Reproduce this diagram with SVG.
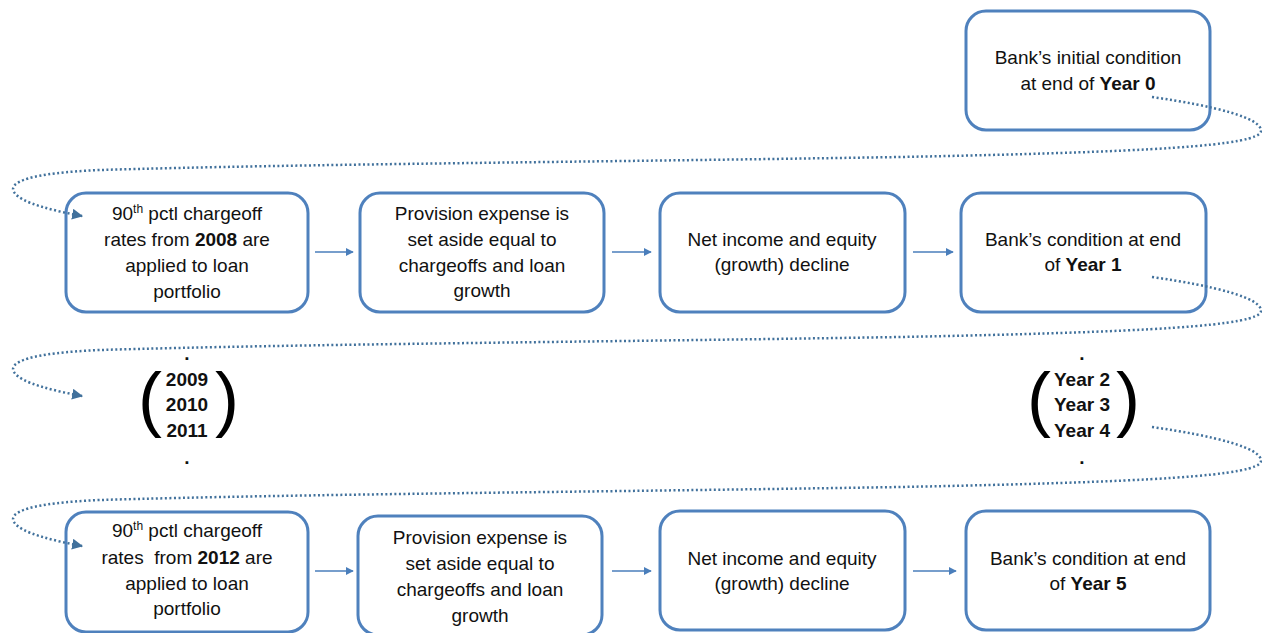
<svg xmlns="http://www.w3.org/2000/svg" width="1262" height="633" viewBox="0 0 1262 633">
<style>
.box{fill:#fff;stroke:#4f81bd;stroke-width:3}
.t{font-family:"Liberation Sans",Arial,sans-serif;font-size:19px;fill:#111;text-anchor:middle}
.b{font-weight:bold}
.sup{font-size:12px}
.par{font-family:"Liberation Sans",Arial,sans-serif;font-size:72px;fill:#000;text-anchor:middle}
.dot{fill:none;stroke:#41719c;stroke-width:2.5;stroke-dasharray:2 2.5}
.arr{fill:none;stroke:#4a7ebb;stroke-width:1.5}
</style>
<defs>
<marker id="ah" viewBox="0 0 10 10" refX="9" refY="5" markerWidth="8" markerHeight="8" orient="auto" markerUnits="userSpaceOnUse">
<path d="M0,0 L10,5 L0,10 z" fill="#4a7ebb"/>
</marker>
<marker id="dh" viewBox="0 0 10 10" refX="9" refY="5" markerWidth="11" markerHeight="11" orient="auto" markerUnits="userSpaceOnUse">
<path d="M0,0 L10,5 L0,10 z" fill="#41719c"/>
</marker>
</defs>

<g id="year0">
<rect class="box" x="966" y="11" width="244" height="119" rx="20"/>
<text class="t" x="1088" y="64">Bank’s initial condition</text>
<text class="t" x="1088" y="90">at end of <tspan class="b">Year 0</tspan></text>
</g>

<g id="r1b1">
<rect class="box" x="66" y="193" width="242" height="119" rx="20"/>
<text class="t" x="187" y="220">90<tspan class="sup" dy="-7">th</tspan><tspan dy="7"> pctl chargeoff</tspan></text>
<text class="t" x="187" y="246">rates from <tspan class="b">2008</tspan> are</text>
<text class="t" x="187" y="272">applied to loan</text>
<text class="t" x="187" y="298">portfolio</text>
</g>
<g id="r1b2">
<rect class="box" x="360" y="193" width="244" height="119" rx="20"/>
<text class="t" x="482" y="220">Provision expense is</text>
<text class="t" x="482" y="246">set aside equal to</text>
<text class="t" x="482" y="272">chargeoffs and loan</text>
<text class="t" x="482" y="297">growth</text>
</g>
<g id="r1b3">
<rect class="box" x="660" y="193" width="245" height="119" rx="20"/>
<text class="t" x="782" y="246">Net income and equity</text>
<text class="t" x="782" y="271">(growth) decline</text>
</g>
<g id="r1b4">
<rect class="box" x="961" y="193" width="245" height="119" rx="20"/>
<text class="t" x="1083" y="246">Bank’s condition at end</text>
<text class="t" x="1083" y="271">of <tspan class="b">Year 1</tspan></text>
</g>

<g id="years-left">
<text class="t b" x="187" y="360">.</text>
<text class="par" x="150" y="423">(</text>
<text class="t b" x="187" y="386">2009</text>
<text class="t b" x="187" y="411">2010</text>
<text class="t b" x="187" y="437">2011</text>
<text class="par" x="227" y="423">)</text>
<text class="t b" x="187" y="464">.</text>
</g>
<g id="years-right">
<text class="t b" x="1082" y="360">.</text>
<text class="par" x="1039" y="423">(</text>
<text class="t b" x="1082" y="386">Year 2</text>
<text class="t b" x="1082" y="411">Year 3</text>
<text class="t b" x="1082" y="437">Year 4</text>
<text class="par" x="1128" y="423">)</text>
<text class="t b" x="1082" y="464">.</text>
</g>

<g id="r3b1">
<rect class="box" x="66" y="512" width="242" height="120" rx="20"/>
<text class="t" x="187" y="537">90<tspan class="sup" dy="-7">th</tspan><tspan dy="7"> pctl chargeoff</tspan></text>
<text class="t" x="187" y="564" xml:space="preserve">rates  from <tspan class="b">2012</tspan> are</text>
<text class="t" x="187" y="590">applied to loan</text>
<text class="t" x="187" y="615">portfolio</text>
</g>
<g id="r3b2">
<rect class="box" x="358" y="516" width="244" height="119" rx="20"/>
<text class="t" x="480" y="544">Provision expense is</text>
<text class="t" x="480" y="570">set aside equal to</text>
<text class="t" x="480" y="596">chargeoffs and loan</text>
<text class="t" x="480" y="622">growth</text>
</g>
<g id="r3b3">
<rect class="box" x="660" y="511" width="245" height="119" rx="20"/>
<text class="t" x="782" y="565">Net income and equity</text>
<text class="t" x="782" y="590">(growth) decline</text>
</g>
<g id="r3b4">
<rect class="box" x="966" y="511" width="244" height="119" rx="20"/>
<text class="t" x="1088" y="565">Bank’s condition at end</text>
<text class="t" x="1088" y="590">of <tspan class="b">Year 5</tspan></text>
</g>

<g id="connectors">
<path class="dot" marker-end="url(#dh)" d="M1152,97 C1215,106 1262,118 1261,131 C1260,146 1150,152 900,157 C600,162 300,164 100,170 C30,173 8,182 14,192 C20,203 55,211 82,216"/>
<path class="dot" marker-end="url(#dh)" d="M1152,277 C1215,286 1262,298 1261,311 C1260,326 1150,332 900,337 C600,342 300,344 100,350 C30,353 8,362 14,372 C20,383 55,391 82,396"/>
<path class="dot" marker-end="url(#dh)" d="M1152,427 C1215,436 1262,448 1261,461 C1260,476 1150,482 900,487 C600,492 300,494 100,500 C30,503 8,512 14,522 C20,533 55,541 82,546"/>
<line class="arr" marker-end="url(#ah)" x1="315" y1="252" x2="353" y2="252"/>
<line class="arr" marker-end="url(#ah)" x1="612" y1="252" x2="651" y2="252"/>
<line class="arr" marker-end="url(#ah)" x1="913" y1="252" x2="953" y2="252"/>
<line class="arr" marker-end="url(#ah)" x1="315" y1="571" x2="353" y2="571"/>
<line class="arr" marker-end="url(#ah)" x1="612" y1="571" x2="651" y2="571"/>
<line class="arr" marker-end="url(#ah)" x1="913" y1="571" x2="956" y2="571"/>
</g>
</svg>
